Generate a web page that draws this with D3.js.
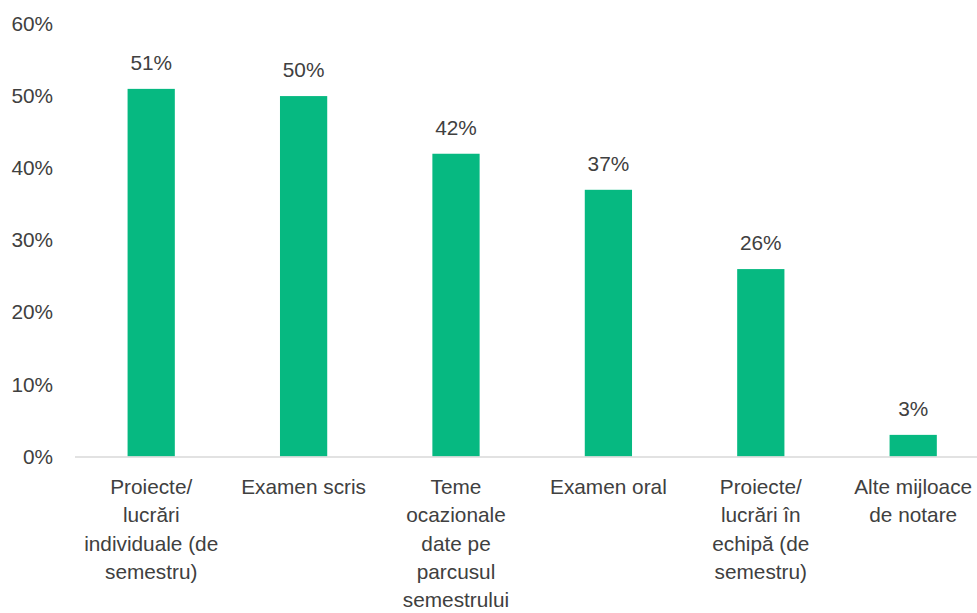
<!DOCTYPE html>
<html><head><meta charset="utf-8">
<script src="https://cdn.jsdelivr.net/npm/d3@7"></script>
<style>body{margin:0;background:#fff}svg text{font-family:"Liberation Sans",Arial,sans-serif;fill:#404040}</style>
</head><body><svg id="c" width="977" height="613"></svg>
<script>
const categories = [
  ["Proiecte/","lucrări","individuale (de","semestru)"],
  ["Examen scris"],
  ["Teme","ocazionale","date pe","parcusul","semestrului"],
  ["Examen oral"],
  ["Proiecte/","lucrări în","echipă (de","semestru)"],
  ["Alte mijloace","de notare"]
];
const values = [51, 50, 42, 37, 26, 3];
const yTicks = [0, 10, 20, 30, 40, 50, 60];

const svg = d3.select("#c");
const x0 = 75, bandW = 152.4;
const fs = "20.8px";
const x = d3.scaleBand().domain(d3.range(categories.length)).range([x0, x0 + bandW * categories.length]).paddingInner(0.69).paddingOuter(0.345);
const y = d3.scaleLinear().domain([0, 60]).range([456.5, 24]);

const gy = svg.append("g").attr("transform", "translate(53,0)")
  .call(d3.axisLeft(y).tickValues(yTicks).tickFormat(d => d + "%").tickSize(0).tickPadding(0));
gy.select(".domain").remove();
gy.selectAll("text").style("font-size", fs).attr("fill", "#404040");

svg.selectAll("rect.bar").data(values).join("rect").attr("class", "bar")
  .attr("x", (d, i) => x(i)).attr("width", x.bandwidth())
  .attr("y", d => y(d)).attr("height", d => y(0) - y(d)).attr("fill", "#06b981");

svg.append("line").attr("x1", x0).attr("x2", 977).attr("y1", y(0) + 0.5).attr("y2", y(0) + 0.5)
  .attr("stroke", "#d9d9d9").attr("stroke-width", 1.5);

svg.selectAll("text.val").data(values).join("text").attr("class", "val")
  .attr("x", (d, i) => x(i) + x.bandwidth() / 2).attr("y", d => y(d) - 19)
  .attr("text-anchor", "middle").style("font-size", fs).text(d => d + "%");

const cat = svg.selectAll("text.cat").data(categories).join("text").attr("class", "cat")
  .attr("text-anchor", "middle").style("font-size", fs)
  .attr("transform", (d, i) => `translate(${x(i) + x.bandwidth() / 2},494)`);
cat.selectAll("tspan").data(d => d).join("tspan").attr("x", 0).attr("y", (d, j) => j * 28.3).text(d => d);
</script></body></html>
